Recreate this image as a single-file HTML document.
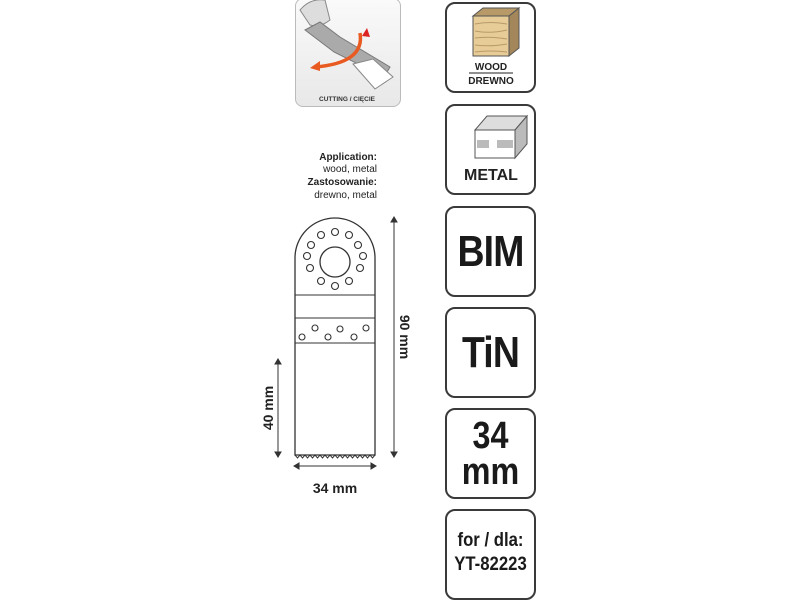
<!DOCTYPE html>
<html><head><meta charset="utf-8"><style>
body{margin:0;width:800px;height:600px;background:#fff;font-family:"Liberation Sans",sans-serif;position:relative;overflow:hidden}
.b{position:absolute;left:445px;width:87px;height:87px;border:2px solid #3a3a3a;border-radius:10px;background:#fff;text-align:center;font-weight:bold;color:#1a1a1a}
.big{font-family:"Liberation Sans Narrow","Liberation Sans",sans-serif;font-size:44px;line-height:88px;letter-spacing:-1px;transform:scaleX(.85)}
</style></head><body>
<div style="position:absolute;left:295px;top:-2px;width:104px;height:107px;border:1px solid #bbb;border-radius:8px;background:linear-gradient(#fafafa,#e8e8e8)"></div>
<svg style="position:absolute;left:0;top:0" width="800" height="600">
<path d="M300 10 q10 -12 25 -10 l5 20 q-10 8 -20 5z" fill="#ddd" stroke="#888"/>
<path d="M305 30 l15 -8 l20 15 l50 30 l-6 10 l-50 -25 z" fill="#aaa" stroke="#777"/>
<path d="M353 64 l20 -5 l20 18 l-18 12 z" fill="#fff" stroke="#888"/>
<path d="M360 33 q5 30 -45 34" stroke="#e85a20" stroke-width="3.5" fill="none"/>
<path d="M310 68 l10 -7 l0 10z" fill="#e85a20"/>
<path d="M367 28 l-5 8 l8 1z" fill="#d22"/>
<text x="347" y="101" font-size="6.5" font-weight="bold" text-anchor="middle" fill="#333">CUTTING / CIĘCIE</text>
<g font-size="10" text-anchor="end" fill="#222">
<text x="377" y="160" font-weight="bold">Application:</text>
<text x="377" y="172">wood, metal</text>
<text x="377" y="185" font-weight="bold">Zastosowanie:</text>
<text x="377" y="198">drewno, metal</text></g>
<path d="M295 455 L295 258 A40 40 0 0 1 375 258 L375 455 Z" fill="#fff" stroke="#333" stroke-width="1.3"/>
<rect x="295" y="295" width="80" height="48" fill="none" stroke="#333"/>
<line x1="295" y1="318" x2="375" y2="318" stroke="#333"/>
<circle cx="335" cy="262" r="15" fill="#fff" stroke="#333" stroke-width="1.3"/>
<g fill="#fff" stroke="#333" stroke-width="1.1">
<circle cx="335" cy="232" r="3.5"/><circle cx="349" cy="235" r="3.5"/><circle cx="358" cy="245" r="3.5"/><circle cx="363" cy="256" r="3.5"/><circle cx="360" cy="268" r="3.5"/><circle cx="349" cy="281" r="3.5"/><circle cx="335" cy="286" r="3.5"/><circle cx="321" cy="281" r="3.5"/><circle cx="310" cy="268" r="3.5"/><circle cx="307" cy="256" r="3.5"/><circle cx="311" cy="245" r="3.5"/><circle cx="321" cy="235" r="3.5"/>
<circle cx="302" cy="337" r="3"/><circle cx="315" cy="328" r="3"/><circle cx="328" cy="337" r="3"/><circle cx="340" cy="329" r="3"/><circle cx="354" cy="337" r="3"/><circle cx="366" cy="328" r="3"/></g>
<path d="M295 455 l2.5 3 l2.5 -3 l2.5 3 l2.5 -3 l2.5 3 l2.5 -3 l2.5 3 l2.5 -3 l2.5 3 l2.5 -3 l2.5 3 l2.5 -3 l2.5 3 l2.5 -3 l2.5 3 l2.5 -3 l2.5 3 l2.5 -3 l2.5 3 l2.5 -3 l2.5 3 l2.5 -3 l2.5 3 l2.5 -3 l2.5 3 l2.5 -3 l2.5 3 l2.5 -3 l2.5 3 l2.5 -3 l2.5 3 l2.5 -3" stroke="#333" fill="none"/>
<g stroke="#333" stroke-width="1" fill="#333">
<line x1="394" y1="220" x2="394" y2="454"/><path d="M391 222 l3 -5 l3 5z M391 452 l3 5 l3 -5z"/>
<line x1="278" y1="362" x2="278" y2="454"/><path d="M275 364 l3 -5 l3 5z M275 452 l3 5 l3 -5z"/>
<line x1="297" y1="466" x2="373" y2="466"/><path d="M299 463 l-5 3 l5 3z M371 463 l5 3 l-5 3z"/></g>
<g font-size="14" font-weight="bold" fill="#222">
<text x="335" y="493" text-anchor="middle">34 mm</text>
<text transform="translate(400,337) rotate(90)" text-anchor="middle">90 mm</text>
<text transform="translate(273,408) rotate(-90)" text-anchor="middle">40 mm</text></g>
</svg>
<div class="b" style="top:2px">
<svg width="87" height="87" style="position:absolute;left:0;top:0">
<path d="M26 12 l10 -8 h36 l-10 8z" fill="#b89a68" stroke="#555"/>
<path d="M62 12 l10 -8 v40 l-10 8z" fill="#a3865a" stroke="#555"/>
<rect x="26" y="12" width="36" height="40" fill="#e8cc98" stroke="#555"/>
<g stroke="#b89a68" fill="none"><path d="M28 20 q15 -3 32 0 M28 27 q15 3 32 -1 M28 34 q15 -2 32 1 M28 41 q15 2 32 -1 M28 48 q15 -2 32 0"/></g>
<text x="44" y="66" font-size="10" font-weight="bold" text-anchor="middle" fill="#222">WOOD</text>
<line x1="22" y1="69" x2="66" y2="69" stroke="#222"/>
<text x="44" y="80" font-size="10" font-weight="bold" text-anchor="middle" fill="#222">DREWNO</text>
</svg></div>
<div class="b" style="top:104px">
<svg width="87" height="87" style="position:absolute;left:0;top:0">
<path d="M28 24 l12 -14 h40 l-12 14z" fill="#ddd" stroke="#555"/>
<path d="M68 24 l12 -14 v28 l-12 14z" fill="#bbb" stroke="#555"/>
<rect x="28" y="24" width="40" height="28" fill="#fff" stroke="#555"/>
<rect x="30" y="34" width="12" height="8" fill="#bbb"/><rect x="50" y="34" width="16" height="8" fill="#bbb"/>
<text x="44" y="74" font-size="16" font-weight="bold" text-anchor="middle" fill="#222">METAL</text>
</svg></div>
<div class="b" style="top:206px"><div class="big">BIM</div></div>
<div class="b" style="top:307px"><div class="big">TiN</div></div>
<div class="b" style="top:408px"><div style="font-size:38px;line-height:36px;padding-top:8px;transform:scaleX(.85)">34<br>mm</div></div>
<div class="b" style="top:509px"><div style="font-size:19px;line-height:24px;padding-top:18px;transform:scaleX(.88)">for / dla:<br>YT-82223</div></div>
</body></html>
